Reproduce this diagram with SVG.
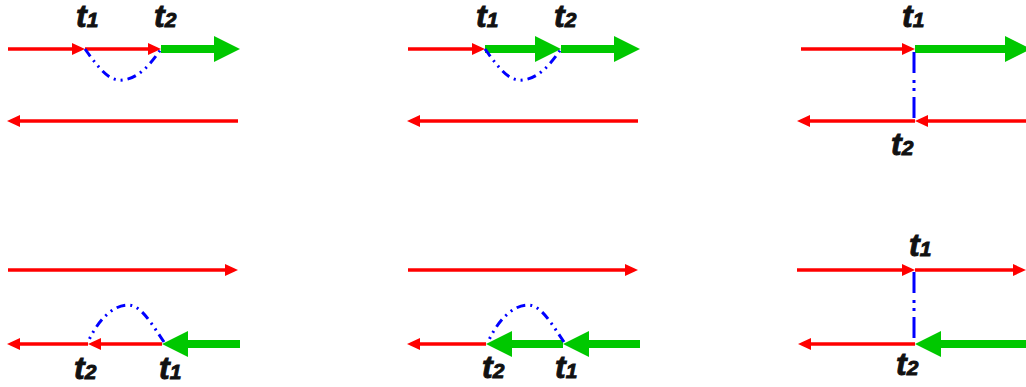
<svg xmlns="http://www.w3.org/2000/svg" width="1026" height="387" viewBox="0 0 1026 387">
<style>
.r{stroke:#ff0000;stroke-width:3.5;fill:none;marker-end:url(#ra)}
.g{stroke:#00c800;stroke-width:8;fill:none;marker-end:url(#ga)}
.b{stroke:#0000ff;stroke-width:3;fill:none;stroke-dasharray:9 5 2 5 2 5}
.v{stroke:#0000ff;stroke-width:3;fill:none;stroke-dasharray:21 7 3 5 3 6}
.t{font-family:"Liberation Sans",Arial,sans-serif;font-weight:bold;font-style:italic;font-size:32px;fill:#111;stroke:#111;stroke-width:0.9}
.s{font-size:21px}
</style>
<defs>
<marker id="ra" markerUnits="userSpaceOnUse" markerWidth="13" markerHeight="12" refX="7" refY="6" orient="auto" overflow="visible">
<path d="M0,0 L13,6 L0,12 z" fill="#ff0000"/>
</marker>
<marker id="ga" markerUnits="userSpaceOnUse" markerWidth="26" markerHeight="26" refX="10" refY="13" orient="auto" overflow="visible">
<path d="M0,0 L26,13 L0,26 z" fill="#00c800"/>
</marker>
</defs>
<rect width="1026" height="387" fill="#ffffff"/>
<g id="connectors">
<g id="panel1">
<line class="r" x1="8" y1="49" x2="79" y2="49"/>
<line class="r" x1="85" y1="49" x2="155" y2="49"/>
<line class="g" x1="161" y1="49" x2="224" y2="49"/>
<path class="b" d="M85,49 C100,70 110,82 123,80 C140,78 152,62 161,49"/>
<line class="r" x1="238" y1="121" x2="13" y2="121"/>
</g>
<g id="panel2">
<line class="r" x1="408" y1="49" x2="479" y2="49"/>
<line class="g" x1="485" y1="49" x2="545" y2="49"/>
<line class="g" x1="561" y1="49" x2="624" y2="49"/>
<path class="b" d="M485,49 C500,70 510,82 523,80 C540,78 552,62 561,49"/>
<line class="r" x1="638" y1="121" x2="413" y2="121"/>
</g>
<g id="panel3">
<line class="r" x1="801" y1="49" x2="909" y2="49"/>
<line class="g" x1="915" y1="49" x2="1015" y2="49"/>
<line class="v" x1="914" y1="52" x2="914" y2="120"/>
<line class="r" x1="1030" y1="121" x2="921" y2="121"/>
<line class="r" x1="915" y1="121" x2="803" y2="121"/>
</g>
<g id="panel4">
<line class="r" x1="8" y1="270" x2="232" y2="270"/>
<line class="g" x1="240" y1="344" x2="178" y2="344"/>
<line class="r" x1="162" y1="344" x2="94" y2="344"/>
<line class="r" x1="88" y1="344" x2="13" y2="344"/>
<path class="b" d="M164,342 C151,323 141,305 128,305 C112,305 97,322 88,342"/>
</g>
<g id="panel5">
<line class="r" x1="408" y1="270" x2="632" y2="270"/>
<line class="g" x1="640" y1="344" x2="579" y2="344"/>
<line class="g" x1="563" y1="344" x2="502" y2="344"/>
<line class="r" x1="486" y1="344" x2="413" y2="344"/>
<path class="b" d="M564,342 C551,323 541,305 528,305 C512,305 497,322 488,342"/>
</g>
<g id="panel6">
<line class="r" x1="797" y1="270" x2="909" y2="270"/>
<line class="r" x1="915" y1="270" x2="1020" y2="270"/>
<line class="v" x1="914" y1="272" x2="914" y2="342"/>
<line class="g" x1="1030" y1="344" x2="931" y2="344"/>
<line class="r" x1="915" y1="344" x2="804" y2="344"/>
</g>
</g>
<g id="labels">
<text class="t" x="76" y="27">t<tspan class="s">1</tspan></text>
<text class="t" x="154" y="27">t<tspan class="s">2</tspan></text>
<text class="t" x="476" y="27">t<tspan class="s">1</tspan></text>
<text class="t" x="554" y="27">t<tspan class="s">2</tspan></text>
<text class="t" x="902" y="27">t<tspan class="s">1</tspan></text>
<text class="t" x="891" y="155">t<tspan class="s">2</tspan></text>
<text class="t" x="74" y="379">t<tspan class="s">2</tspan></text>
<text class="t" x="159" y="379">t<tspan class="s">1</tspan></text>
<text class="t" x="482" y="378">t<tspan class="s">2</tspan></text>
<text class="t" x="555" y="378">t<tspan class="s">1</tspan></text>
<text class="t" x="909" y="256">t<tspan class="s">1</tspan></text>
<text class="t" x="896" y="375">t<tspan class="s">2</tspan></text>
</g>
</svg>
